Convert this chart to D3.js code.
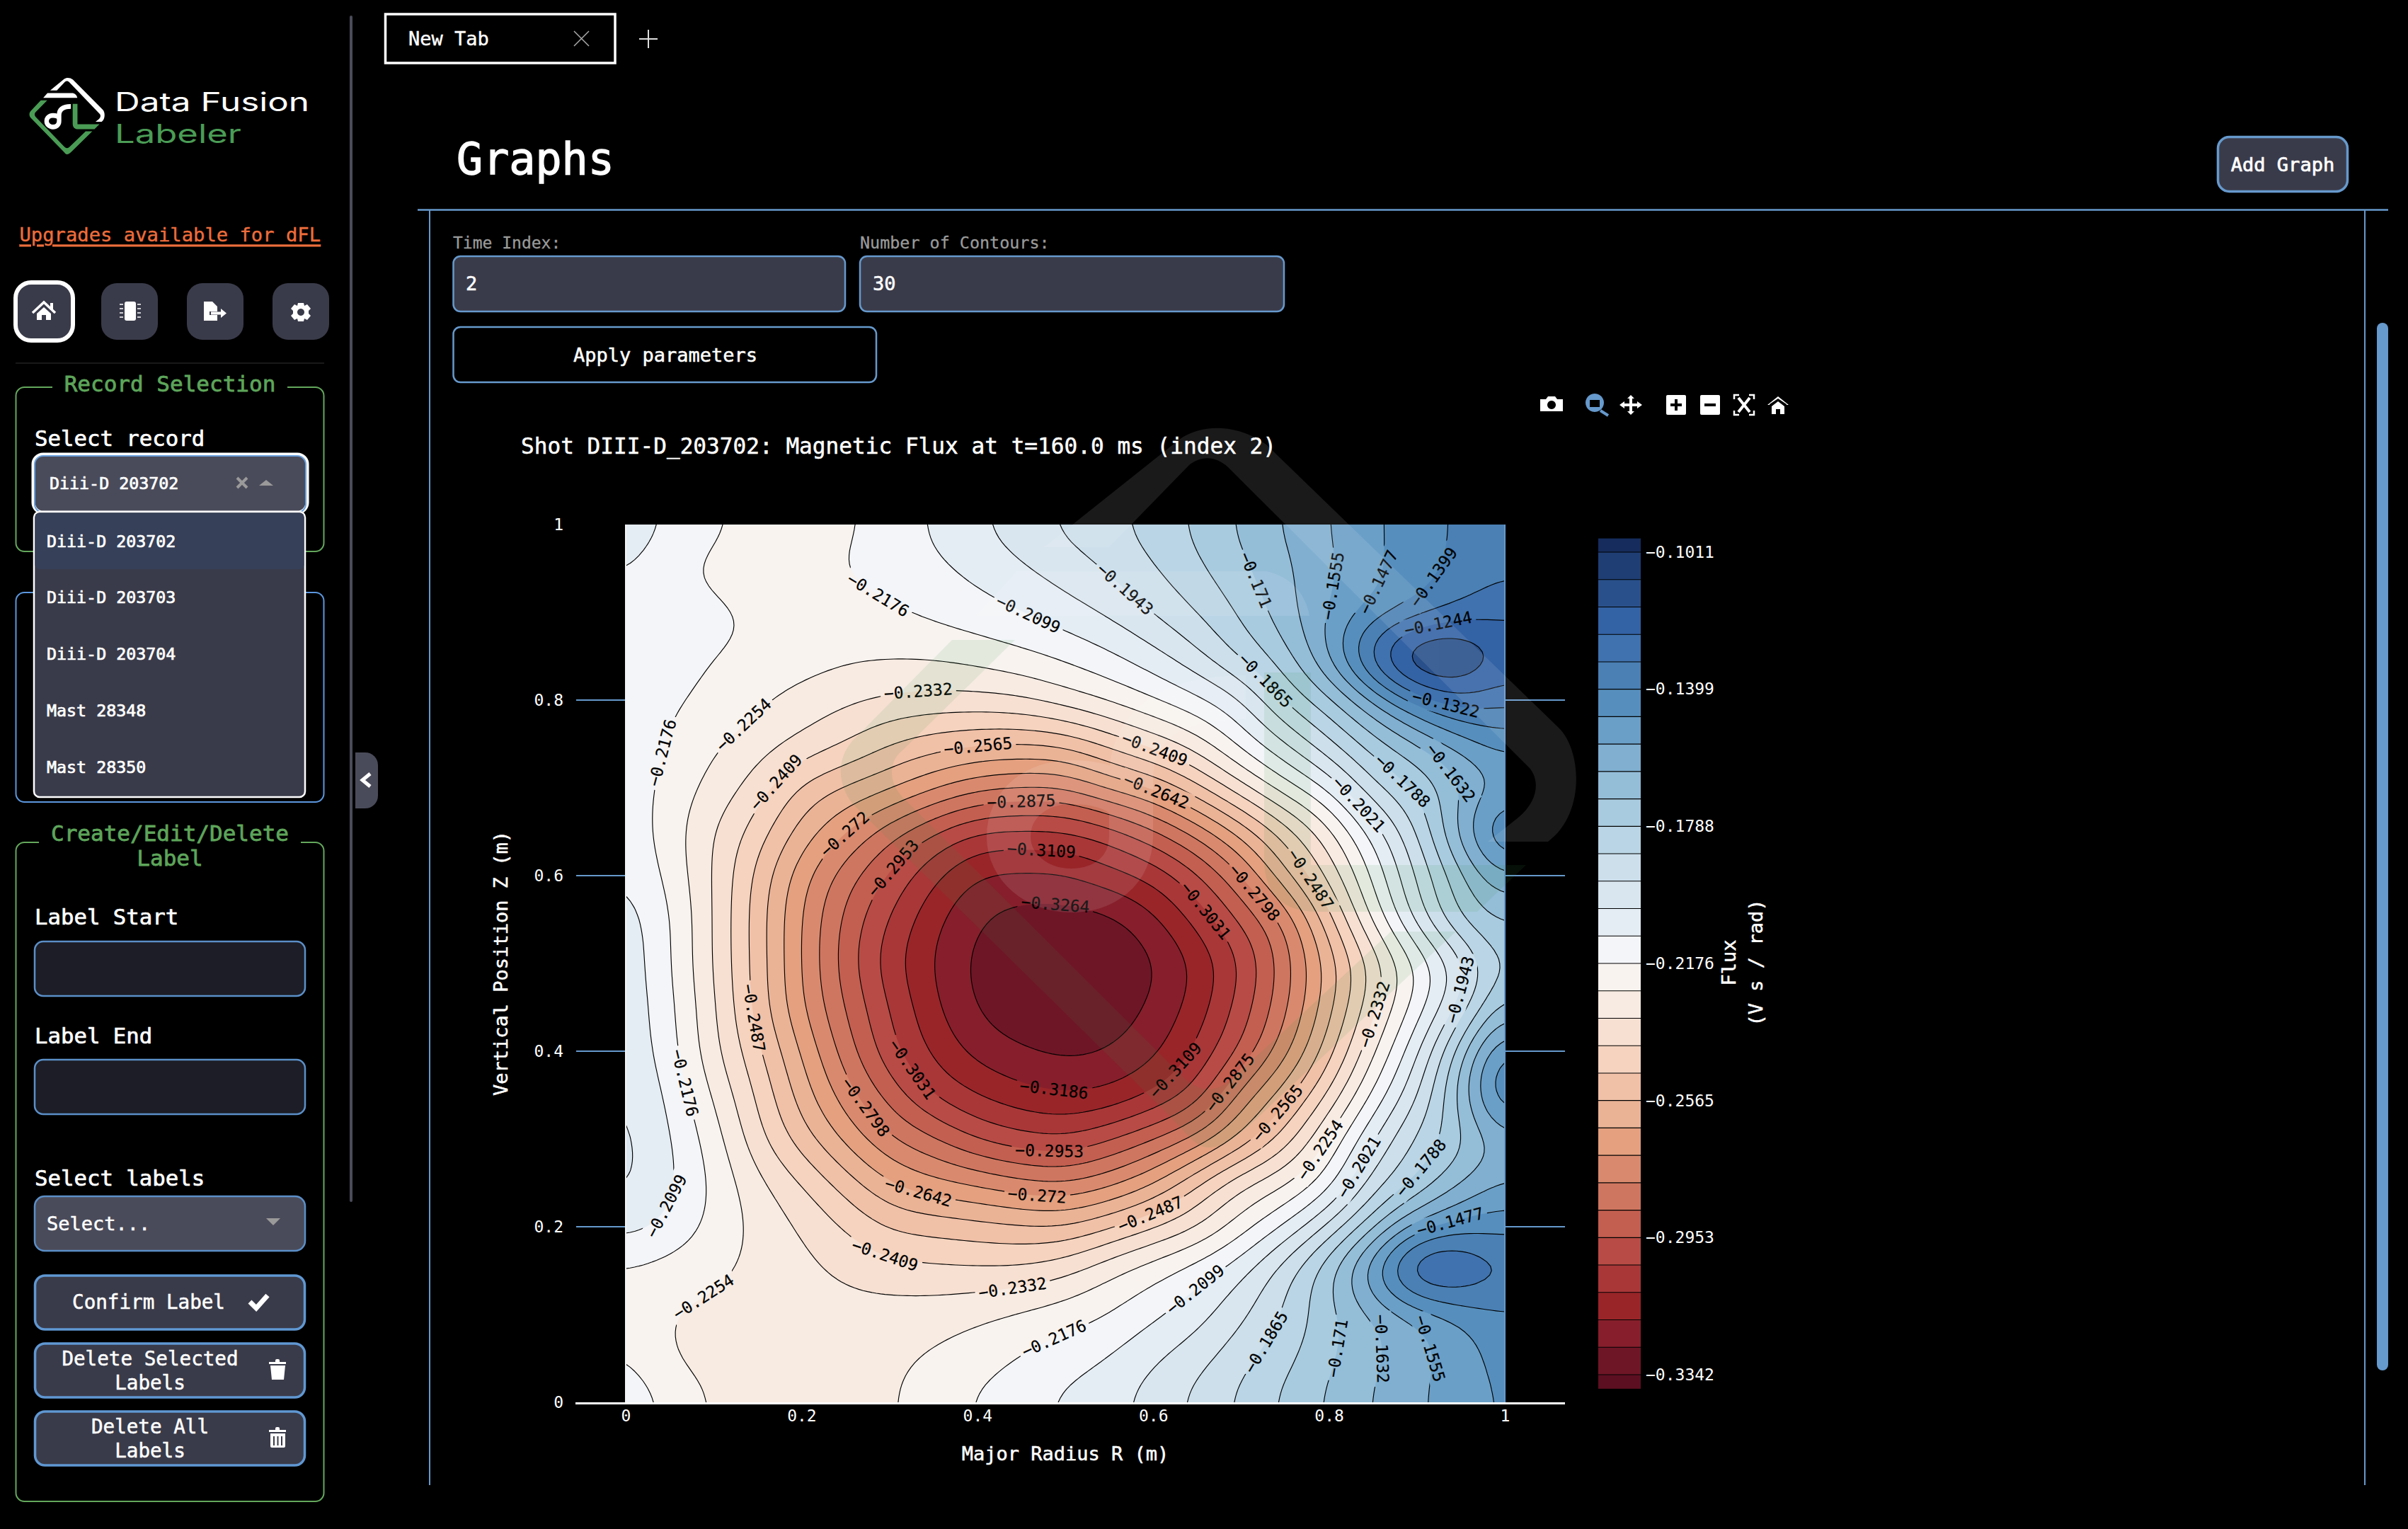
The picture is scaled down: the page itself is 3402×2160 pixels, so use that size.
<!DOCTYPE html>
<html><head><meta charset="utf-8">
<style>html,body{margin:0;background:#000;overflow:hidden}svg{display:block}text{font-family:"DejaVu Sans Mono",monospace}</style>
<script src="https://cdn.jsdelivr.net/npm/d3@7"></script></head><body><svg id="c" width="3402" height="2160"></svg>
<script>
// ---------- chart data ----------
const majorRadius=[0,.05,.1,.15,.2,.25,.3,.35,.4,.45,.5,.55,.6,.65,.7,.75,.8,.85,.9,.95,1];
const verticalPosition=[1,.95,.9,.85,.8,.75,.7,.65,.6,.55,.5,.45,.4,.35,.3,.25,.2,.15,.1,.05,0];
const fluxRows=[
[-.2040,-.2110,-.2160,-.2200,-.2212,-.2195,-.2140,-.2088,-.2030,-.1975,-.1925,-.1885,-.1832,-.1770,-.1695,-.1622,-.1554,-.1490,-.1435,-.1385,-.1345],
[-.2090,-.2160,-.2195,-.2215,-.2212,-.2170,-.2141,-.2115,-.2078,-.2031,-.1983,-.1934,-.1870,-.1802,-.1727,-.1650,-.1568,-.1491,-.1432,-.1375,-.1335],
[-.2125,-.2140,-.2160,-.2185,-.2210,-.2215,-.2190,-.2159,-.2130,-.2100,-.2056,-.2006,-.1938,-.1862,-.1776,-.1663,-.1551,-.1463,-.1377,-.1300,-.1265],
[-.2145,-.2160,-.2175,-.2195,-.2215,-.2235,-.2245,-.2245,-.2225,-.2195,-.2161,-.2113,-.2049,-.1963,-.1845,-.1740,-.1540,-.1250,-.1040,-.1058,-.1190],
[-.2150,-.2165,-.2190,-.2240,-.2285,-.2320,-.2342,-.2355,-.2355,-.2340,-.2290,-.2240,-.2180,-.2115,-.2030,-.1850,-.1740,-.1555,-.1370,-.1265,-.1305],
[-.2135,-.2180,-.2243,-.2295,-.2350,-.2408,-.2487,-.2530,-.2556,-.2565,-.2548,-.2465,-.2380,-.2290,-.2150,-.2025,-.1880,-.1750,-.1640,-.1525,-.1440],
[-.2125,-.2205,-.2280,-.2367,-.2505,-.2575,-.2628,-.2706,-.2775,-.2798,-.2795,-.2703,-.2637,-.2505,-.2360,-.2210,-.2085,-.1880,-.1775,-.1645,-.1540],
[-.2125,-.2215,-.2332,-.2445,-.2597,-.2715,-.2843,-.2950,-.3034,-.3045,-.3040,-.2990,-.2890,-.2770,-.2615,-.2450,-.2280,-.2065,-.1865,-.1590,-.1345],
[-.2096,-.2200,-.2335,-.2508,-.2690,-.2840,-.2965,-.3090,-.3190,-.3198,-.3192,-.3135,-.3085,-.2965,-.2805,-.2580,-.2385,-.2160,-.1935,-.1740,-.1550],
[-.2055,-.2170,-.2335,-.2525,-.2720,-.2895,-.3035,-.3165,-.3255,-.3298,-.3303,-.3288,-.3205,-.3083,-.2940,-.2785,-.2515,-.2235,-.1990,-.1770,-.1695],
[-.2045,-.2170,-.2336,-.2520,-.2722,-.2912,-.3075,-.3190,-.3285,-.3333,-.3342,-.3330,-.3275,-.3170,-.3030,-.2835,-.2610,-.2385,-.2170,-.1980,-.1750],
[-.2040,-.2155,-.2320,-.2515,-.2710,-.2880,-.3033,-.3170,-.3270,-.3322,-.3332,-.3312,-.3250,-.3150,-.2995,-.2815,-.2590,-.2350,-.2140,-.1925,-.1660],
[-.2035,-.2144,-.2310,-.2468,-.2650,-.2835,-.3005,-.3125,-.3212,-.3255,-.3280,-.3262,-.3205,-.3095,-.2942,-.2750,-.2520,-.2265,-.2035,-.1745,-.1430],
[-.2012,-.2115,-.2262,-.2420,-.2600,-.2760,-.2905,-.3040,-.3112,-.3160,-.3185,-.3170,-.3100,-.2998,-.2766,-.2598,-.2395,-.2158,-.1950,-.1680,-.1350],
[-.1995,-.2095,-.2215,-.2385,-.2525,-.2660,-.2790,-.2865,-.2960,-.3005,-.3022,-.2960,-.2880,-.2780,-.2620,-.2450,-.2240,-.2021,-.1845,-.1740,-.1585],
[-.2000,-.2085,-.2190,-.2310,-.2410,-.2524,-.2640,-.2700,-.2735,-.2780,-.2798,-.2745,-.2650,-.2490,-.2345,-.2265,-.2135,-.1905,-.1780,-.1635,-.1545],
[-.2065,-.2120,-.2200,-.2275,-.2340,-.2415,-.2495,-.2515,-.2535,-.2552,-.2560,-.2495,-.2415,-.2340,-.2215,-.2090,-.1925,-.1735,-.1525,-.1440,-.1425],
[-.2190,-.2210,-.2240,-.2275,-.2310,-.2345,-.2375,-.2390,-.2395,-.2392,-.2350,-.2270,-.2205,-.2130,-.2040,-.1895,-.1725,-.1477,-.1195,-.1215,-.1320],
[-.2195,-.2256,-.2270,-.2285,-.2298,-.2305,-.2300,-.2290,-.2270,-.2240,-.2210,-.2175,-.2115,-.2055,-.1960,-.1858,-.1735,-.1640,-.1555,-.1465,-.1410],
[-.2165,-.2256,-.2280,-.2295,-.2302,-.2290,-.2270,-.2245,-.2210,-.2172,-.2135,-.2095,-.2030,-.1970,-.1890,-.1810,-.1722,-.1645,-.1578,-.1512,-.1445],
[-.2120,-.2190,-.2262,-.2290,-.2305,-.2290,-.2262,-.2215,-.2165,-.2125,-.2080,-.2045,-.1985,-.1920,-.1845,-.1768,-.1695,-.1627,-.1567,-.1510,-.1465]];
const contourStart=-0.1011, contourEnd=-0.3342, contourCount=30;
const bandColors=["#152c5c","#1f3e74","#29508a","#3362a5","#3f72ae","#4a80b4","#568fbd","#6a9fc7","#80afd0","#94bdd8","#a8cbdf","#bad5e5","#ccdfeb","#d9e6ef","#e5edf4","#f3f5f8","#f8f3ef","#f7ebe2","#f7e0d2","#f5d3be","#f0c0a7","#eab396","#e4a07f","#d98a6e","#cf7660","#c35f50","#b84b45","#a93738","#992529","#861f2b","#6f1626","#5c0f20"];
const xTickValues=[0,.2,.4,.6,.8,1], yTickValues=[0,.2,.4,.6,.8,1];
const colorbarTicks=[-.1011,-.1399,-.1788,-.2176,-.2565,-.2953,-.3342];
const labelLevels=[-.2176,-.2099,-.1943,-.171,-.1555,-.1477,-.1399,-.1244,-.1322,-.1865,-.1788,-.1632,-.2021,-.2176,-.2254,-.2332,-.2409,-.2565,-.2409,-.2642,-.272,-.2875,-.2953,-.3109,-.3264,-.2798,-.3031,-.2487,-.2332,-.1943,-.2487,-.2176,-.2099,-.2254,-.3031,-.2798,-.2642,-.2409,-.2332,-.272,-.2953,-.3186,-.3109,-.2875,-.2565,-.2254,-.2021,-.1788,-.2487,-.1477,-.2099,-.2176,-.1865,-.171,-.1632,-.1555];
const labelR=[.284,.459,.567,.717,.805,.859,.916,.925,.934,.719,.885,.937,.836,.045,.134,.333,.176,.401,.604,.604,.246,.45,.304,.473,.489,.724,.667,.784,.857,.953,.147,.068,.049,.086,.323,.27,.332,.298,.44,.468,.482,.487,.634,.689,.742,.785,.834,.908,.595,.939,.646,.49,.726,.813,.86,.914];
const labelZ=[.914,.90,.925,.937,.93,.933,.942,.883,.80,.813,.709,.716,.683,.739,.772,.807,.702,.746,.75,.697,.651,.686,.609,.63,.569,.588,.566,.599,.44,.469,.438,.364,.222,.124,.377,.334,.236,.177,.131,.235,.285,.354,.37,.363,.329,.291,.268,.264,.219,.201,.131,.067,.07,.061,.061,.061];
const recordOptions=["Diii-D 203702","Diii-D 203703","Diii-D 203704","Mast 28348","Mast 28350"];
// ---------- helpers ----------
const svg=d3.select("#c");
const BLUE="#6699cc",GREEN="#64a85c",PANEL="#3a3b4a",PANEL2="#4a4b5a";
function rr(g,x0,y0,x1,y1,o={}){return g.append("rect").attr("x",x0).attr("y",y0).attr("width",x1-x0).attr("height",y1-y0).attr("rx",o.r??0).attr("fill",o.fill??"none").attr("stroke",o.stroke??"none").attr("stroke-width",o.sw??0);}
function txt(g,s,x,y,o={}){const f=o.fill??"#fff";const t=g.append("text").attr("x",x).attr("y",y).attr("dominant-baseline","central").attr("text-anchor",o.anchor??"start").attr("font-size",o.size??27).attr("fill",f).attr("stroke",f).attr("stroke-width",o.w??.3).text(s);if(o.rot!==undefined)t.attr("transform",`rotate(${o.rot} ${x} ${y})`);if(o.family)t.style("font-family",o.family);if(o.deco)t.attr("text-decoration",o.deco);return t;}
function pth(g,d,o={}){return g.append("path").attr("d",d).attr("fill",o.fill??"none").attr("stroke",o.stroke??"none").attr("stroke-width",o.sw??0).attr("stroke-linecap",o.cap??"butt").attr("stroke-linejoin",o.join??"miter").attr("fill-rule",o.rule??"nonzero");}
function logo(g,white,green,op){
 const w=g.append("g").attr("opacity",op[0]),v=g.append("g").attr("opacity",op[1]);
 pth(v,"M1345,904L1204,1047C1180,1075 1185,1110 1204,1135L1651,1575C1680,1605 1690,1621 1707,1621C1730,1621 1745,1605 1765,1590L2057,1316L1965,1316L1745,1520C1720,1545 1695,1545 1670,1520L1275,1126C1255,1105 1255,1075 1275,1060L1434,904Z",{fill:green});
 pth(v,"M1786,950L1852,950L1852,1222L2156,1222L2087,1288L1860,1288C1810,1288 1786,1260 1786,1215Z",{fill:green});
 pth(w,"M1475,773L1666,621C1700,597 1750,600 1789,628L2202,1028C2235,1060 2240,1150 2187,1189L2102,1189L2145,1155C2175,1130 2175,1100 2160,1084L1735,660C1715,642 1695,645 1680,657L1567,773Z",{fill:white});
 pth(w,"M1379,870L1437,807L1789,807C1825,815 1845,840 1850,870Z",{fill:white});
 pth(w,"M1760,985C1660,985 1598,1020 1598,1100L1598,1180C1598,1230 1560,1258 1513,1258C1465,1258 1425,1225 1425,1182C1425,1135 1465,1105 1513,1105C1550,1105 1598,1115 1598,1150",{stroke:white,sw:62});
}
// ---------- sidebar ----------
const side=svg.append("g");
rr(side,494,22,498,1698,{fill:"#4a4b5a",r:2});
logo(side.append("g").attr("transform","translate(42,111) scale(.1022,.1064) translate(-1192,-615)"),"#fff","#4a9c55",[1,1]);
txt(side,"Data Fusion",162,143,{size:37,family:"Inter",w:0}).attr("textLength",275).attr("lengthAdjust","spacingAndGlyphs");
txt(side,"Labeler",162,188,{size:37,fill:"#4a9c55",family:"Inter",w:0}).attr("textLength",179).attr("lengthAdjust","spacingAndGlyphs");
txt(side,"Upgrades available for dFL",27.5,331,{size:27.2,fill:"#ec6d3c",deco:"underline",w:.4});
rr(side,22,399,103,481,{fill:PANEL,stroke:"#fff",sw:6,r:22});
[[143,223],[264,344],[385,465]].forEach(b=>rr(side,b[0],400,b[1],480,{fill:PANEL,r:22}));
pth(side,"M46,442L62,427L78,442",{stroke:"#fff",sw:3.5});
pth(side,"M71,428h4v10h-4Z M52,443L62,434L72,443V452H65V445H59V452H52Z",{fill:"#fff"});
pth(side,"M176,429a3,3 0 0 1 3,-3h10a3,3 0 0 1 3,3v21a3,3 0 0 1 -3,3h-10a3,3 0 0 1 -3,-3Z",{fill:"#fff"});
pth(side,"M169,430h5M169,436h5M169,442h5M169,448h5M194,430h5M194,436h5M194,442h5M194,448h5",{stroke:"#fff",sw:1.6});
pth(side,"M288,426H300L307,433V440H296V445H307V453H288Z M298,440.5H312V436L320,442.5L312,449V444.5H298Z",{fill:"#fff"});
const gear=side.append("g").attr("transform","translate(425,441)");
pth(gear,"M-4,-13h8l1,4l4,-2l5,6l-3,3v4l3,3l-5,6l-4,-2l-1,4h-8l-1,-4l-4,2l-5,-6l3,-3v-4l-3,-3l5,-6l4,2Z M0,-5a5,5 0 1 0 .01,0Z",{fill:"#fff",rule:"evenodd"});
pth(side,"M22,513H458",{stroke:"#222",sw:1.5});
function fieldset(y0,y1,color,gap){rr(side,22.5,y0,457.5,y1,{stroke:color,sw:2,r:12});if(gap)rr(side,gap[0],y0-3,gap[1],y0+3,{fill:"#000"});}
fieldset(547,779,GREEN,[74,406]);
txt(side,"Record Selection",240,542,{size:31,fill:"#5da55a",anchor:"middle",w:.8});
txt(side,"Select record",49,619,{size:30.7,w:.7});
fieldset(837,1133,"#5b97de");
fieldset(1190,2121,GREEN,[55,425]);
txt(side,"Create/Edit/Delete",240,1177,{size:31,fill:"#5da55a",anchor:"middle",w:.8});
txt(side,"Label",240,1212,{size:31,fill:"#5da55a",anchor:"middle",w:.8});
rr(side,47,642,434,724,{fill:PANEL2,stroke:"#fff",sw:5,r:14});
rr(side,49,644,432,724,{stroke:"#6aa0dc",sw:2,r:12});
txt(side,"Diii-D 203702",70,682,{size:23.3,w:.7});
pth(side,"M335,675l14,14M349,675l-14,14",{stroke:"#9a9a9a",sw:4});
pth(side,"M366,686l10,-8l10,8Z",{fill:"#9a9a9a"});
rr(side,48,723,431,1126,{fill:PANEL,stroke:"#fff",sw:2.5,r:8});
rr(side,49.5,724.5,429.5,804,{fill:"#364058",r:6});
const optionY=d3.scalePoint().domain(recordOptions).range([764,1083]);
recordOptions.forEach(o=>txt(side,o,66,optionY(o),{size:23.3,w:.7}));
pth(side,"M502,1063h14a18,18 0 0 1 18,18v43a18,18 0 0 1 -18,18h-14Z",{fill:PANEL2});
pth(side,"M523,1093l-11,9l11,9",{stroke:"#fff",sw:5});
txt(side,"Label Start",49,1295,{size:30.7,w:.7});
rr(side,49,1330,431,1407,{fill:"#1c1d26",stroke:"#5b8fc8",sw:2.5,r:12});
txt(side,"Label End",49,1463,{size:30.7,w:.7});
rr(side,49,1497,431,1574,{fill:"#1c1d26",stroke:"#5b8fc8",sw:2.5,r:12});
txt(side,"Select labels",49,1664,{size:30.7,w:.7});
rr(side,49,1690,431,1767,{fill:PANEL2,stroke:"#5b8fc8",sw:2.5,r:14});
txt(side,"Select...",66,1728,{size:27,w:.5});
pth(side,"M376,1721h20l-10,10Z",{fill:"#9a9a9a"});
[[1802,1878],[1898,1974],[1994,2070]].forEach(b=>rr(side,49.5,b[0],430.5,b[1],{fill:PANEL,stroke:"#5f97d2",sw:3.5,r:14}));
txt(side,"Confirm Label",210,1839,{size:27.6,anchor:"middle",w:.5});
pth(side,"M353,1839l9,9l16,-18",{stroke:"#fff",sw:7});
txt(side,"Delete Selected",212,1919,{size:27.6,anchor:"middle",w:.5});
txt(side,"Labels",212,1953,{size:27.6,anchor:"middle",w:.5});
txt(side,"Delete All",212,2015,{size:27.6,anchor:"middle",w:.5});
txt(side,"Labels",212,2049,{size:27.6,anchor:"middle",w:.5});
pth(side,"M380,1924h24v3h-24Z M389,1924v-2a2,2 0 0 1 2,-2h2a2,2 0 0 1 2,2v2Z M382,1929h21l-2,20h-17Z",{fill:"#fff"});
pth(side,"M380,2020h24v3h-24Z M389,2020v-2a2,2 0 0 1 2,-2h2a2,2 0 0 1 2,2v2Z M382,2025h21v18a2,2 0 0 1 -2,2h-17a2,2 0 0 1 -2,-2Z",{fill:"#fff"});
pth(side,"M387,2029v13M392.5,2029v13M398,2029v13",{stroke:PANEL,sw:2});
// ---------- header ----------
const head=svg.append("g");
rr(head,544.5,20,869,89,{stroke:"#fff",sw:3.5});
txt(head,"New Tab",577,54,{size:27,w:.4});
pth(head,"M811,44l21,21M832,44l-21,21",{stroke:"#aaa",sw:1.5});
pth(head,"M916,42v26M903,55h26",{stroke:"#ddd",sw:2});
txt(head,"Graphs",645,225,{size:61.7,w:1.3});
rr(head,3133.5,193.5,3316.5,270.5,{fill:PANEL,stroke:BLUE,sw:3.5,r:16});
txt(head,"Add Graph",3225,232,{size:27,anchor:"middle",w:.7});
pth(head,"M590,296.5H3374",{stroke:BLUE,sw:2.5});
pth(head,"M607,296V2098M3341,296V2098",{stroke:BLUE,sw:2});
rr(head,3358,456,3374,1936,{fill:BLUE,r:8});
txt(head,"Time Index:",640,343,{size:23,fill:"#9a9a9a"});
txt(head,"Number of Contours:",1215,343,{size:23.4,fill:"#9a9a9a"});
rr(head,640.5,362,1194,440,{fill:PANEL,stroke:BLUE,sw:2.5,r:10});
rr(head,1215,362,1814,440,{fill:PANEL,stroke:BLUE,sw:2.5,r:10});
txt(head,"2",658,400,{size:27,w:.5});txt(head,"30",1233,400,{size:27,w:.5});
rr(head,640.5,462,1238,540,{stroke:BLUE,sw:2.5,r:10});
txt(head,"Apply parameters",940,501,{size:27,anchor:"middle",w:.5});
// ---------- modebar ----------
const mode=svg.append("g");
pth(mode,"M2176,564h8l3,-4h10l3,4h8v17h-32Z M2192,566a6,6 0 1 0 .01,0Z",{fill:"#fff",rule:"evenodd"});
pth(mode,"M2253,556a13,13 0 1 1 -.01,0Z M2246,565v10h14v-10Z",{fill:BLUE,rule:"evenodd"});
pth(mode,"M2261,580l11,7",{stroke:BLUE,sw:4});
pth(mode,"M2288,572l7,-5v3h7v-7h-3l5,-5l5,5h-3v7h7v-3l7,5l-7,5v-3h-7v7h3l-5,5l-5,-5h3v-7h-7v3Z",{fill:"#fff"});
rr(mode,2354,558,2382,586,{fill:"#fff",r:2});pth(mode,"M2368,564v16M2360,572h16",{stroke:"#000",sw:4});
rr(mode,2402,558,2430,586,{fill:"#fff",r:2});pth(mode,"M2408,572h16",{stroke:"#000",sw:4});
pth(mode,"M2450,564v-6h7M2471,558h7v6M2478,580v6h-7M2457,586h-7v-6",{stroke:"#fff",sw:2.5});
pth(mode,"M2456,562l16,20M2472,562l-16,20",{stroke:"#fff",sw:4});
pth(mode,"M2497,572l15,-12l15,12h-3v-1l-12,-8l-12,8v1Z M2503,574l9,-7l9,7v11h-6v-7h-6v7h-6Z",{fill:"#fff"});
// ---------- chart ----------
const chart=svg.append("g");
const x=d3.scaleLinear().domain([0,1]).range([884,2126]);
const y=d3.scaleLinear().domain([0,1]).range([1981,741]);
// render-only refinement of the read grid, so contour lines come out smooth
const n=majorRadius.length,k=10,nF=(n-1)*k+1,fine=new Float64Array(nF*nF);
const cr=(a,b,c,d,t)=>.5*(2*b+(c-a)*t+(2*a-5*b+4*c-d)*t*t+(3*b-a-3*c+d)*t*t*t);
const at=(j,i)=>fluxRows[Math.max(0,Math.min(n-1,j))][Math.max(0,Math.min(n-1,i))];
for(let j=0;j<nF;j++){const v=j/k,j0=Math.min(n-2,Math.floor(v)),tv=v-j0;
 for(let i=0;i<nF;i++){const u=i/k,i0=Math.min(n-2,Math.floor(u)),tu=u-i0;
  const rows=[-1,0,1,2].map(d=>cr(at(j0+d,i0-1),at(j0+d,i0),at(j0+d,i0+1),at(j0+d,i0+2),tu));
  fine[j*nF+i]=cr(rows[0],rows[1],rows[2],rows[3],tv);}}
d3.blur2({data:fine,width:nF,height:nF},4);
const levels=d3.range(contourCount+1).map(i=>contourStart+(contourEnd-contourStart)*i/contourCount);
const asc=levels.slice().reverse();
const polys=d3.contours().size([nF,nF]).thresholds(asc)(fine);
const project=d3.geoPath(d3.geoTransform({point(px,py){const sc=nF-1;this.stream.point(x((px-.5)/sc),y(1-(py-.5)/sc));}}));
const defs=svg.append("defs");
defs.append("clipPath").attr("id","plot").append("rect").attr("x",884).attr("y",741).attr("width",1242).attr("height",1240);
const fAt=(r,z)=>{const gx=Math.max(0,Math.min(nF-1.001,r*(nF-1))),gy=Math.max(0,Math.min(nF-1.001,(1-z)*(nF-1)));const a=Math.floor(gx),b=Math.floor(gy),s=gx-a,t=gy-b;
 return (1-t)*((1-s)*fine[b*nF+a]+s*fine[b*nF+a+1])+t*((1-s)*fine[(b+1)*nF+a]+s*fine[(b+1)*nF+a+1]);};
const placed=labelLevels.map((L,i)=>{let r=labelR[i],z=labelZ[i];const h=.006;const nearest=levels.reduce((m,v)=>Math.abs(v-L)<Math.abs(m-L)?v:m,levels[0]);let gr,gz;
 for(let it=0;it<8;it++){gr=(fAt(r+h,z)-fAt(r-h,z))/(2*h);gz=(fAt(r,z+h)-fAt(r,z-h))/(2*h);const g2=gr*gr+gz*gz||1e-9,e=fAt(r,z)-nearest;let dr=e*gr/g2,dz=e*gz/g2;const m=Math.hypot(dr,dz);if(m>.012){dr*=.012/m;dz*=.012/m;}r=Math.max(.02,Math.min(.98,r-dr));z=Math.max(.02,Math.min(.98,z-dz));}
 let a=Math.atan2(gr,gz)*180/Math.PI;
 if(a>90)a-=180;if(a<=-90)a+=180;
 return {text:String(L).replace("-","\u2212"),cx:x(r),cy:y(z),angle:a};});
const mask=defs.append("mask").attr("id","gaps").attr("maskUnits","userSpaceOnUse").attr("x",884).attr("y",741).attr("width",1242).attr("height",1240);
mask.append("rect").attr("x",884).attr("y",741).attr("width",1242).attr("height",1240).attr("fill","#fff");
placed.forEach(p=>{const w=p.text.length*13.85+10;mask.append("rect").attr("x",-w/2).attr("y",-15).attr("width",w).attr("height",30).attr("fill","#000").attr("transform",`translate(${p.cx},${p.cy}) rotate(${p.angle})`);});
chart.selectAll("line.grid").data(yTickValues.filter(d=>d>0&&d<1)).join("line").attr("x1",814).attr("x2",2211).attr("y1",d=>y(d)).attr("y2",d=>y(d)).attr("stroke",BLUE).attr("stroke-width",2);
const fills=chart.append("g").attr("clip-path","url(#plot)");
fills.append("rect").attr("x",884).attr("y",741).attr("width",1242).attr("height",1240).attr("fill",bandColors[31]);
fills.selectAll("path").data(polys).join("path").attr("d",project).attr("fill",(d,i)=>bandColors[contourCount-i]);
chart.append("g").attr("clip-path","url(#plot)").append("g").attr("mask","url(#gaps)").selectAll("path").data(polys).join("path").attr("d",project).attr("fill","none").attr("stroke","#000").attr("stroke-width",1.15);
chart.append("g").selectAll("text").data(placed).join("text").attr("transform",p=>`translate(${p.cx},${p.cy}) rotate(${p.angle})`).attr("text-anchor","middle").attr("dominant-baseline","central").attr("font-size",23).attr("fill","#000").attr("stroke","#000").attr("stroke-width",.2).text(p=>p.text);
pth(chart,"M2126,741V1981",{stroke:BLUE,sw:2});
pth(chart,"M884,741V1981",{stroke:"#f4f4f4",sw:2});
pth(chart,"M813,1982.5H2211",{stroke:"#fff",sw:3});
const axB=chart.append("g").attr("transform","translate(0,1981)").call(d3.axisBottom(x).tickValues(xTickValues).tickSize(0).tickPadding(11).tickFormat(d=>String(d)));
const axL=chart.append("g").attr("transform","translate(800,0)").call(d3.axisLeft(y).tickValues(yTickValues).tickSize(0).tickPadding(4).tickFormat(d=>String(d)));
[axB,axL].forEach(a=>{a.select(".domain").remove();a.selectAll("text").attr("font-size",23).attr("fill","#fff").style("font-family",'"DejaVu Sans Mono"');});
txt(chart,"Shot DIII-D_203702: Magnetic Flux at t=160.0 ms (index 2)",736,630,{size:31.1,w:.5});
txt(chart,"Major Radius R (m)",1505,2053,{size:27,anchor:"middle",w:.5});
txt(chart,"Vertical Position Z (m)",707,1361,{size:27,anchor:"middle",rot:-90,w:.5});
const yBar=d3.scaleLinear().domain([contourStart,contourEnd]).range([780,1942]);
const half=(yBar(levels[1])-yBar(levels[0]))/2;
const bandEdges=[yBar(contourStart)-half].concat(levels.map(v=>yBar(v))).concat([yBar(contourEnd)+half]);
const bar=chart.append("g");
bar.selectAll("rect").data(bandColors).join("rect").attr("x",2258).attr("width",60).attr("y",(d,i)=>bandEdges[i]).attr("height",(d,i)=>bandEdges[i+1]-bandEdges[i]+.5).attr("fill",d=>d);
bar.selectAll("line").data(levels).join("line").attr("x1",2258).attr("x2",2318).attr("y1",d=>yBar(d)).attr("y2",d=>yBar(d)).attr("stroke","#000").attr("stroke-width",1.1);
const axBar=chart.append("g").attr("transform","translate(2318,0)").call(d3.axisRight(yBar).tickValues(colorbarTicks).tickSize(0).tickPadding(7).tickFormat(d=>String(d).replace("-","\u2212")));
axBar.select(".domain").remove();axBar.selectAll("text").attr("font-size",23).attr("fill","#fff").style("font-family",'"DejaVu Sans Mono"');
txt(chart,"Flux",2442,1360,{size:27,anchor:"middle",rot:-90,w:.5});
txt(chart,"(V s / rad)",2480,1360,{size:27,anchor:"middle",rot:-90,w:.5});
logo(svg.append("g"),"#fff","#3c9650",[.1,.1]);
</script></body></html>
